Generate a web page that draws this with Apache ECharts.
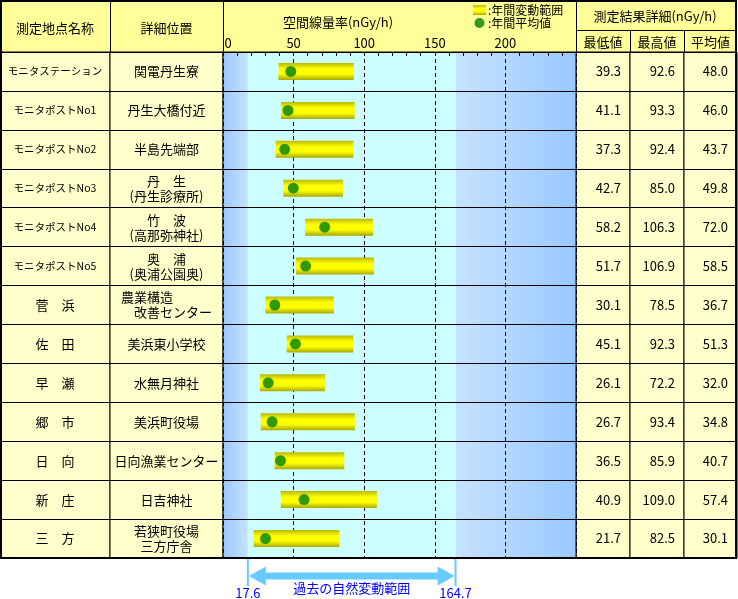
<!DOCTYPE html>
<html><head><meta charset="utf-8">
<script src="https://cdn.jsdelivr.net/npm/echarts/dist/echarts.min.js"></script>
<style>html,body{margin:0;padding:0;background:#fff}#c{width:738px;height:599px}</style>
</head><body><div id="c"></div>
<script>
// ---- data ----
const stationNames = ['モニタステーション','モニタポストNo1','モニタポストNo2','モニタポストNo3','モニタポストNo4','モニタポストNo5','菅　浜','佐　田','早　瀬','郷　市','日　向','新　庄','三　方'];
const locations = ['関電丹生寮','丹生大橋付近','半島先端部','丹　生\n(丹生診療所)','竹　波\n(高那弥神社)','奥　浦\n(奥浦公園奥)','農業構造　　　\n　改善センター','美浜東小学校','水無月神社','美浜町役場','日向漁業センター','日吉神社','若狭町役場\n三方庁舎'];
const minValues = [39.3,41.1,37.3,42.7,58.2,51.7,30.1,45.1,26.1,26.7,36.5,40.9,21.7];
const maxValues = [92.6,93.3,92.4,85.0,106.3,106.9,78.5,92.3,72.2,93.4,85.9,109.0,82.5];
const avgValues = [48.0,46.0,43.7,49.8,72.0,58.5,36.7,51.3,32.0,34.8,40.7,57.4,30.1];
const naturalRange = [17.6, 164.7];
const doseTicks = {min:0, max:250, interval:50, minorSplit:5};
const headerTexts = ['測定地点名称','詳細位置','空間線量率(nGy/h)','測定結果詳細(nGy/h)','最低値','最高値','平均値'];
const legendNames = [':年間変動範囲', ':年間平均値'];
const naturalLabel = '過去の自然変動範囲';

// ---- layout ----
const FF = '"Noto Sans CJK JP", "Noto Sans", sans-serif';
const edges = [0,110,223,576,630,684,737];
const TOP = 52, H = 506;
const chart = echarts.init(document.getElementById('c'), null, {renderer:'canvas'});

const grids = edges.slice(0,-1).map((x,i)=>({
  left:x, top:TOP, width:edges[i+1]-x, height:H, show:true,
  backgroundColor: i===2 ? 'transparent' : '#ffffcc',
  borderColor:'#000', borderWidth:1, z: i===2 ? 10 : 0
}));

const xAxes = grids.map((g,i)=> i===2 ? {
  gridIndex:2, type:'value', position:'top', min:doseTicks.min, max:doseTicks.max, interval:doseTicks.interval, z:2,
  axisLine:{show:false},
  axisTick:{show:true, inside:true, length:4, lineStyle:{color:'#000'}},
  minorTick:{show:true, splitNumber:doseTicks.minorSplit, length:4, lineStyle:{color:'#000'}},
  splitLine:{show:true, lineStyle:{color:'#000', width:1, type:[4,3]}},
  axisLabel:{showMaxLabel:false, margin:2, fontSize:13, color:'#000', fontFamily:FF,
    formatter:v=> v===0 ? '{z|0}' : String(v), rich:{z:{padding:[0,0,0,10], fontSize:13, fontFamily:FF, color:'#000'}}}
} : {gridIndex:i, type:'value', show:false, min:0, max:1});

const fmt = arr => (v,idx)=> arr[idx].toFixed(1);
function yAxis(i, label){
  return {gridIndex:i, type:'category', data:stationNames, inverse:true, z:2,
    axisLine:{show:false}, axisTick:{show:false},
    splitLine:{show:true, interval:0, lineStyle:{color:'#000', width:1}},
    axisLabel: label ? Object.assign({show:true, interval:0, color:'#000', fontSize:13, lineHeight:15, fontFamily:FF, inside:true}, label) : {show:false}};
}
const yAxes = [
  yAxis(0, {margin:55, align:'center', formatter:v=> v.startsWith('モニタ') ? '{s|'+v+'}' : v, rich:{s:{fontSize:10.5, fontFamily:FF, color:'#000'}}}),
  yAxis(1, {margin:56.5, align:'center', formatter:(v,idx)=>locations[idx]}),
  yAxis(2, null),
  Object.assign(yAxis(3, {margin:9, align:'right', formatter:fmt(minValues)}), {position:'right'}),
  Object.assign(yAxis(4, {margin:9, align:'right', formatter:fmt(maxValues)}), {position:'right'}),
  Object.assign(yAxis(5, {margin:9, align:'right', formatter:fmt(avgValues)}), {position:'right'})
];

const barGrad = {type:'linear', x:0, y:0, x2:0, y2:1, colorStops:[
  {offset:0, color:'#b9b900'},{offset:0.35, color:'#ffff00'},{offset:0.65, color:'#ffff00'},{offset:1, color:'#a8a800'}]};
const hGrad = (a,b)=>({type:'linear', x:0, y:0, x2:1, y2:0, colorStops:[{offset:0,color:a},{offset:1,color:b}]});

const option = {
  animation:false,
  backgroundColor:'#fff',
  textStyle:{fontFamily:FF},
  grid:grids, xAxis:xAxes, yAxis:yAxes,
  legend:{data:[{name:legendNames[0], icon:'rect'},{name:legendNames[1], icon:'circle'}],
    orient:'vertical', left:473, top:4, itemWidth:13, itemHeight:10, itemGap:1, padding:0, selectedMode:false,
    textStyle:{fontSize:12, color:'#000', fontFamily:FF, padding:[0,0,0,-3]}},
  series:[
    {name:'base', type:'bar', xAxisIndex:2, yAxisIndex:2, stack:'r', data:minValues, barWidth:17,
      itemStyle:{color:'transparent'}, silent:true, z:1,
      markArea:{silent:true, z:1, itemStyle:{borderWidth:0}, data:[
        [{xAxis:doseTicks.min, itemStyle:{color:hGrad('#99c9ff','#c6e2ff')}},{xAxis:naturalRange[0]}],
        [{xAxis:naturalRange[0], itemStyle:{color:'#ccffff'}},{xAxis:naturalRange[1]}],
        [{xAxis:naturalRange[1], itemStyle:{color:hGrad('#c6e2ff','#99c9ff')}},{xAxis:doseTicks.max}]
      ]}},
    {name:legendNames[0], type:'bar', xAxisIndex:2, yAxisIndex:2, stack:'r', barWidth:17,
      data:maxValues.map((v,i)=>+(v-minValues[i]).toFixed(1)), itemStyle:{color:barGrad}, z:3},
    {name:legendNames[1], type:'scatter', xAxisIndex:2, yAxisIndex:2, symbolSize:11,
      data:avgValues.map((v,i)=>[v,i]), itemStyle:{color:'#008000'}, z:4}
  ]
};
chart.setOption(option);

// ---- table chrome & bottom annotation ----
const txt = (t,x,y,size,color)=>({type:'text', x:x, y:y, z:20,
  style:{text:t, fill:color||'#000', font:(size||13)+'px '+FF, align:'center', verticalAlign:'middle'}});
const ln = (x1,y1,x2,y2,color,w)=>({type:'line', z:20, shape:{x1,y1,x2,y2}, style:{stroke:color||'#000', lineWidth:w||1}});
const p0 = chart.convertToPixel({xAxisIndex:2}, naturalRange[0]);
const p1 = chart.convertToPixel({xAxisIndex:2}, naturalRange[1]);
const ay = 576, hl = 18, hh = 9.5, sh = 3.5;
const g = [
  {type:'rect', z:-1, shape:{x:0,y:0,width:737,height:52}, style:{fill:'#ffff99'}},
  ln(110.5,0,110.5,52), ln(223.5,0,223.5,52), ln(576.5,0,576.5,52),
  ln(630.5,30,630.5,52), ln(684.5,30,684.5,52), ln(576,30.5,737,30.5), ln(0,52.5,737,52.5),
  txt(headerTexts[0],55,28), txt(headerTexts[1],166.5,28), txt(headerTexts[2],338,22),
  txt(headerTexts[3],655,16), txt(headerTexts[4],603,42), txt(headerTexts[5],657,42), txt(headerTexts[6],710.5,42),
  {type:'rect', z:30, shape:{x:1,y:1,width:735,height:557}, style:{fill:null, stroke:'#000', lineWidth:2}},
  ln(p0,559,p0,586,'#66ccff',2), ln(p1,559,p1,586,'#66ccff',2),
  {type:'polygon', z:20, shape:{points:[[p0+1,ay],[p0+hl,ay-hh],[p0+hl,ay-sh],[p1-hl,ay-sh],[p1-hl,ay-hh],[p1-1,ay],[p1-hl,ay+hh],[p1-hl,ay+sh],[p0+hl,ay+sh],[p0+hl,ay+hh]]}, style:{fill:'#66ccff'}},
  txt(naturalLabel,(p0+p1)/2,588,13,'#0000ff'),
  txt(String(naturalRange[0]),p0,593,13,'#0000ff'),
  txt(String(naturalRange[1]),p1,593,13,'#0000ff')
];
chart.setOption({graphic:g});
</script>
</body></html>
